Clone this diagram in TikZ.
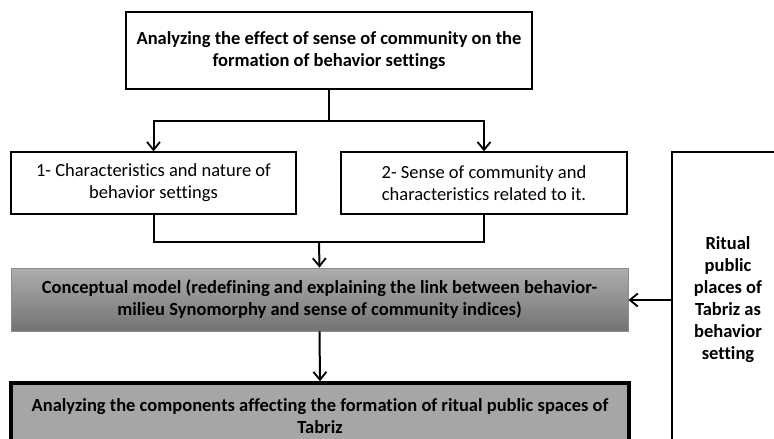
\documentclass[tikz,border=0pt]{standalone}
\usepackage{fontspec}
\setmainfont{Carlito}[Ligatures=NoCommon]
\usepackage{xcolor}
\usepackage{tikz}
\usetikzlibrary{arrows.meta, positioning, calc}

\begin{document}
\begin{tikzpicture}[
    x=1pt, y=-1pt,
    font=\fontsize{18.5}{22}\selectfont,
    box/.style={draw=black, fill=white, line width=1.3pt, align=center, inner sep=4pt},
    headbox/.style={box, line width=2pt, font=\fontsize{18.5}{22}\selectfont\bfseries},
    modelbox/.style={draw=black!45, line width=0.8pt, top color=black!32, bottom color=black!55, align=center, inner sep=4pt, font=\fontsize{18.5}{22}\selectfont\bfseries},
    resultbox/.style={draw=black, fill=black!35, line width=3.5pt, align=center, inner sep=4pt, font=\fontsize{18.5}{22}\selectfont\bfseries},
    line/.style={line width=2pt, draw=black},
    arrow/.style={line, -{Straight Barb[length=8pt, width=13pt, line width=1.8pt]}}
]
    \useasboundingbox (0,0) rectangle (774,439);
    \clip (0,0) rectangle (774,439);

    % Nodes
    \node[headbox, minimum width=406pt, minimum height=77pt] (top) at (329,50.5) {Analyzing the effect of sense of community on the\\formation of behavior settings};
    \node[box, minimum width=285pt, minimum height=62pt] (b1) at (153.5,183) {1- Characteristics and nature of\\behavior settings};
    \node[box, minimum width=286pt, minimum height=62pt] (b2) at (484,183) {2- Sense of community and\\characteristics related to it.};
    \node[box, minimum width=112pt, minimum height=296pt, font=\fontsize{18.5}{22}\selectfont\bfseries] (ritual) at (728,300) {Ritual\\public\\places of\\Tabriz as\\behavior\\setting};
    \node[modelbox, minimum width=617pt, minimum height=63pt] (model) at (319.5,299.5) {Conceptual model (redefining and explaining the link between behavior-\\milieu Synomorphy and sense of community indices)};
    \node[resultbox, minimum width=618pt, minimum height=66pt] (result) at (320,416) {Analyzing the components affecting the formation of ritual public spaces of\\Tabriz};

    % Connectors
    \coordinate (fork) at (329,121);
    \coordinate (join) at (319,242);
    \draw[line] (top.south) -- (fork);
    \draw[arrow] (fork) -| (b1.north);
    \draw[arrow] (fork) -| (b2.north);
    \draw[line] (b1.south) |- (join);
    \draw[line] (b2.south) |- (join);
    \draw[arrow] (join) -- (model.north);
    \draw[arrow] (model.south) -- (result.north);
    \draw[arrow] (ritual.west) -- (ritual.west -| model.east);
\end{tikzpicture}
\end{document}
